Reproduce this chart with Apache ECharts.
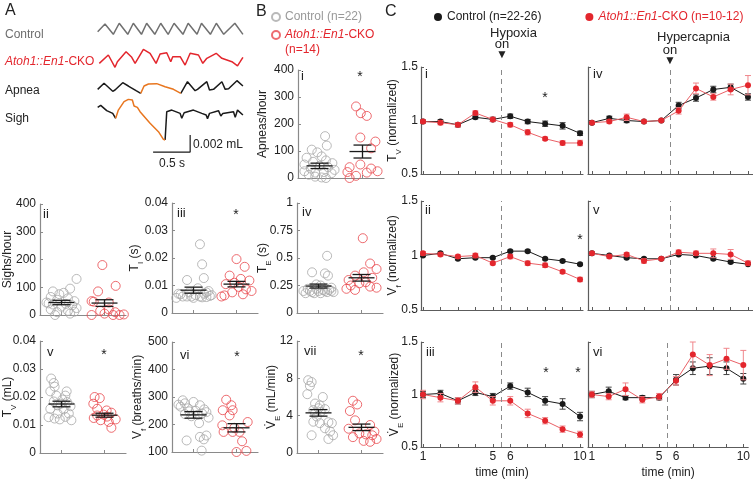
<!DOCTYPE html>
<html><head><meta charset="utf-8">
<script src="https://cdn.jsdelivr.net/npm/echarts@6/dist/echarts.min.js"></script>
<style>html,body{margin:0;padding:0;background:#fff}#c{width:753px;height:482px}</style>
</head><body><div id="c"></div>
<script>
// ================= DATA =================
// Panel A traces: [time (s), volume (µL = 0.001 mL)]
const traceControl = [[0.009,0.39],[0.108,1.29],[0.22,0.08],[0.30,1.38],[0.415,0.08],[0.49,1.38],[0.60,0.08],[0.67,1.38],[0.78,0.08],[0.86,1.38],[0.96,0.08],[1.04,1.38],[1.16,0.08],[1.23,1.38],[1.35,0.08],[1.41,1.38],[1.53,0.08],[1.61,1.38],[1.71,0.08],[1.86,1.38],[1.969,0.08]];
const traceCKO = [[0.031,0.49],[0.153,1.47],[0.243,0.02],[0.275,0.68],[0.392,1.86],[0.469,1.20],[0.514,0.49],[0.626,2.14],[0.716,1.67],[0.797,0.49],[0.851,1.59],[0.941,1.74],[0.995,0.68],[1.022,1.27],[1.122,1.27],[1.189,0.29],[1.257,1.67],[1.369,1.47],[1.428,0.49],[1.482,1.08],[1.608,1.67],[1.685,1.08],[1.820,0.68],[1.896,0.18],[1.932,0.68],[1.969,1.20]];
const traceApneaPre = [[0.009,0.49],[0.095,1.20],[0.212,0.26],[0.243,0.41],[0.347,1.27],[0.423,0.88],[0.527,0.33],[0.590,0.02]];
const traceApneaEvent = [[0.590,0.02],[0.635,0.88],[0.694,1.12],[0.806,1.16],[0.919,0.80],[1.032,0.49],[1.131,0.02]];
const traceApneaPost = [[1.131,0.02],[1.221,1.39],[1.324,0.33],[1.356,0.49],[1.482,1.39],[1.518,0.41],[1.572,0.49],[1.685,1.39],[1.730,0.49],[1.775,0.56],[1.888,1.51],[1.969,0.88]];
const traceSighPre = [[0.009,4.08],[0.050,4.31],[0.131,3.69],[0.212,3.37],[0.252,2.79]];
const traceSighEvent = [[0.252,2.79],[0.288,3.76],[0.365,4.75],[0.423,5.02],[0.477,4.94],[0.500,4.24],[0.545,4.08],[0.581,3.57],[0.716,2.20],[0.829,1.22],[0.896,0.31],[0.919,0.24]];
const traceSighPost = [[0.919,0.24],[0.941,3.57],[1.009,3.76],[1.122,3.37],[1.144,2.79],[1.176,3.45],[1.301,3.76],[1.414,3.37],[1.473,3.18],[1.491,2.75],[1.518,3.37],[1.639,3.69],[1.671,3.06],[1.698,3.37],[1.842,3.57],[1.865,2.90],[1.896,3.76],[1.969,3.18]];
const scaleBarTime = 0.5;   // s
const scaleBarVolume = 2;   // µL (0.002 mL)

// Panel B dot plots: values, horizontal jitter (category units), [mean, SEM]
const apneaCtrl = [155,120,105,95,80,75,65,60,55,50,45,40,35,30,25,22,20,18,12,5,2,0];
const apneaCtrlJit = [0.13,0.17,-0.18,-0.05,0.05,-0.3,0.15,-0.15,0.3,-0.35,0.0,0.2,-0.2,0.35,-0.35,0.1,-0.1,0.28,-0.25,-0.1,0.05,0.15];
const apneaCko = [265,240,230,150,135,110,50,40,35,25,22,20,8,0];
const apneaCkoJit = [-0.15,-0.04,0.1,-0.05,0.3,0.2,-0.05,-0.3,0.2,0.35,-0.35,0.1,-0.15,-0.3];
const apneaStats = [[45,10],[98,24]];

const sighCtrl = [130,95,85,80,75,65,60,55,50,45,42,40,38,35,30,25,20,15,12,10,5,0];
const sighCtrlJit = [0.35,0.2,-0.2,0.05,-0.05,-0.25,0.15,-0.1,0.3,-0.35,-0.3,0.1,-0.2,0.25,0.0,0.35,-0.25,0.15,0.3,-0.1,0.2,-0.15];
const sighCko = [180,105,85,50,48,45,20,15,10,5,0,0,0,2];
const sighCkoJit = [-0.05,0.26,-0.15,-0.3,-0.25,0.1,0.1,-0.1,0.25,0.0,-0.3,0.2,0.35,0.45];
const sighStats = [[45,8],[43,12]];

const tiCtrl = [0.025,0.0177,0.0127,0.012,0.009,0.008,0.0075,0.007,0.007,0.0065,0.0065,0.006,0.006,0.006,0.0058,0.0055,0.0055,0.0057,0.006,0.0075,0.0062,0.0068];
const tiCtrlJit = [0.15,0.2,0.24,-0.15,0.1,0.35,-0.1,0.25,-0.35,0.42,0.05,-0.25,0.15,-0.05,0.3,-0.4,0.0,0.2,-0.15,0.3,0.38,-0.3];
const tiCko = [0.0196,0.0168,0.0136,0.0124,0.0118,0.011,0.0105,0.0095,0.0086,0.008,0.0075,0.0068,0.0064,0.006];
const tiCkoJit = [0.0,0.19,-0.16,0.1,0.3,-0.05,-0.25,0.05,0.22,0.35,-0.1,0.15,-0.28,-0.35];
const tiStats = [[0.0083,0.0011],[0.0105,0.001]];

const teCtrl = [0.52,0.37,0.36,0.34,0.26,0.25,0.23,0.22,0.21,0.2,0.2,0.19,0.19,0.18,0.18,0.18,0.19,0.2,0.21,0.2,0.22,0.2];
const teCtrlJit = [0.2,-0.15,0.15,0.22,-0.05,0.05,0.3,-0.25,0.1,-0.35,0.0,-0.15,0.2,-0.3,0.05,-0.1,0.35,-0.2,0.25,0.15,-0.05,0.3];
const teCko = [0.68,0.45,0.40,0.37,0.34,0.32,0.30,0.28,0.27,0.25,0.24,0.22,0.21,0.23];
const teCkoJit = [0.03,0.2,0.35,0.05,-0.15,0.25,-0.3,0.1,-0.05,-0.25,0.2,-0.35,-0.15,0.35];
const teStats = [[0.245,0.018],[0.32,0.03]];

const tvCtrl = [0.0266,0.025,0.022,0.0237,0.022,0.0205,0.0184,0.0191,0.0182,0.017,0.0167,0.0158,0.0156,0.0141,0.0141,0.0123,0.012,0.0117,0.0129,0.0176,0.0205,0.0128];
const tvCtrlJit = [-0.24,-0.18,-0.26,-0.16,0.12,0.09,-0.18,0.02,0.13,-0.09,0.21,-0.26,0.05,0.17,-0.09,-0.16,-0.04,0.23,0.09,-0.02,-0.12,-0.3];
const tvCko = [0.020,0.0196,0.0176,0.0158,0.0152,0.0144,0.0137,0.0134,0.012,0.0117,0.0111,0.009,0.0125,0.013];
const tvCkoJit = [-0.23,-0.11,-0.26,-0.17,0.05,0.16,-0.02,-0.17,0.26,-0.09,0.1,0.16,-0.25,0.06];
const tvStats = [[0.0175,0.001],[0.0135,0.0007]];

const vfCtrl = [288,277,282,259,270,265,255,250,248,245,240,238,235,230,225,205,160,155,146,142,105,272];
const vfCtrlJit = [-0.25,-0.2,0.0,-0.13,0.15,-0.3,0.25,0.05,-0.1,0.3,0.2,-0.2,0.1,-0.05,0.35,0.13,0.3,0.15,0.24,-0.16,0.19,-0.35];
const vfCko = [290,252,270,252,233,209,197,173,173,139,100,104,173,188];
const vfCkoJit = [-0.24,-0.32,-0.12,-0.09,-0.16,0.26,-0.33,-0.09,0.07,0.13,0.0,0.23,-0.3,-0.05];
const vfStats = [[235,12],[188,15]];

const veCtrl = [7.8,7.6,7.2,6.3,6.0,5.3,5.1,4.7,4.6,4.4,3.9,3.35,3.3,3.2,3.2,2.65,2.3,1.9,1.9,1.5,4.25,4.8];
const veCtrlJit = [-0.24,-0.16,-0.2,-0.26,0.1,-0.08,0.03,0.15,-0.12,0.05,-0.04,-0.12,0.23,0.31,0.03,0.15,0.27,-0.16,0.34,0.23,-0.08,0.0];
const veCko = [5.6,5.2,4.5,3.5,3.0,2.6,2.3,2.1,2.0,1.9,1.7,1.5,1.3,1.2];
const veCkoJit = [-0.2,-0.1,-0.27,-0.15,0.2,-0.3,0.3,-0.05,0.1,0.25,-0.2,0.35,0.05,0.2];
const veStats = [[4.3,0.35],[2.75,0.35]];

// Panel C time courses (normalized), minutes 1..10
const timeMin = [1,2,3,4,5,6,7,8,9,10];
const stimOnset = 5.5;
const tvHypoxCtrl = [0.99,0.99,0.96,1.03,1.01,1.04,0.99,0.97,0.95,0.88];
const tvHypoxCtrlErr = [0.015,0.015,0.02,0.015,0.02,0.02,0.02,0.025,0.03,0.02];
const tvHypoxCko = [0.99,0.98,0.96,1.07,1.01,0.96,0.89,0.83,0.79,0.79];
const tvHypoxCkoErr = [0.015,0.02,0.02,0.02,0.02,0.02,0.025,0.015,0.02,0.025];
const tvHyperCtrl = [0.98,1.02,1.0,0.99,1.0,1.14,1.21,1.29,1.31,1.22];
const tvHyperCtrlErr = [0.01,0.02,0.02,0.01,0.01,0.03,0.03,0.03,0.03,0.03];
const tvHyperCko = [0.98,0.99,1.03,0.99,1.0,1.09,1.30,1.22,1.29,1.33];
const tvHyperCkoErr = [0.01,0.015,0.03,0.01,0.01,0.03,0.05,0.03,0.05,0.09];
const vfHypoxCtrl = [1.0,1.02,0.97,0.98,0.98,1.04,1.04,0.97,0.95,0.92];
const vfHypoxCtrlErr = [0.01,0.01,0.01,0.01,0.01,0.01,0.01,0.01,0.01,0.01];
const vfHypoxCko = [1.02,1.01,0.99,1.0,0.93,0.99,0.93,0.91,0.85,0.78];
const vfHypoxCkoErr = [0.015,0.015,0.015,0.02,0.015,0.02,0.02,0.02,0.015,0.02];
const vfHyperCtrl = [1.02,1.0,0.98,0.97,0.97,1.01,1.0,0.97,0.94,0.92];
const vfHyperCtrlErr = [0.01,0.01,0.01,0.01,0.01,0.01,0.01,0.01,0.01,0.01];
const vfHyperCko = [1.02,0.99,1.01,0.95,0.97,1.03,1.02,1.02,1.01,0.93];
const vfHyperCkoErr = [0.01,0.015,0.015,0.02,0.01,0.02,0.02,0.04,0.045,0.02];
const veHypoxCtrl = [1.0,1.01,0.94,1.02,0.98,1.08,1.02,0.94,0.91,0.79];
const veHypoxCtrlErr = [0.03,0.03,0.03,0.03,0.03,0.03,0.04,0.04,0.05,0.04];
const veHypoxCko = [1.0,0.97,0.94,1.07,0.94,0.94,0.82,0.75,0.67,0.62];
const veHypoxCkoErr = [0.04,0.04,0.03,0.05,0.04,0.04,0.04,0.03,0.03,0.03];
const veHyperCtrl = [1.0,1.03,0.97,0.97,0.97,1.14,1.25,1.27,1.25,1.15];
const veHyperCtrlErr = [0.03,0.04,0.02,0.02,0.02,0.05,0.06,0.08,0.06,0.05];
const veHyperCko = [1.0,0.98,1.05,0.95,0.98,1.13,1.38,1.28,1.34,1.28];
const veHyperCkoErr = [0.03,0.03,0.06,0.03,0.03,0.04,0.12,0.1,0.1,0.14];

// ================= STYLE / BUILD =================
const FONT = '"Liberation Sans", Arial, sans-serif';
const TXT = '#222';
const BLACK = '#1a1a1a', RED = '#e3262d', GRAY_TRACE = '#707070', ORANGE = '#e8761f';
const CIRC_GRAY = '#a8a8a8', CIRC_RED = '#e8474c';
const AX_B = '#8a8a8a', AX_C = '#5c5c5c';
const NAME_CTRL_C = 'Control (n=22-26)', NAME_CKO_C = 'Atoh1::En1-CKO (n=10-12)';
const NAME_CTRL_B = 'Control (n=22)', NAME_CKO_B = 'Atoh1::En1-CKO (n=14)';

const grids = [], xAxes = [], yAxes = [], series = [];
function addGrid(g){ grids.push(g); return grids.length - 1; }

// subscript rich styles: main text pinned to top of line, subscript pinned to bottom
const nameRich = {
  n: {fontSize: 12, fontFamily: FONT, color: TXT, lineHeight: 14, verticalAlign: 'top'},
  d: {fontSize: 12, fontFamily: '"DejaVu Sans", sans-serif', color: TXT, lineHeight: 14, verticalAlign: 'top'},
  s: {fontSize: 8, fontFamily: FONT, color: TXT, lineHeight: 16, verticalAlign: 'bottom'}
};

// ---- Panel A traces ----
const traceGrids = [
  {top: 20, height: 15, ymin: 0, data: [[traceControl, GRAY_TRACE]]},
  {top: 45, height: 22.5, ymin: 0, data: [[traceCKO, RED]]},
  {top: 78, height: 15.5, ymin: 0, data: [[traceApneaPre, BLACK], [traceApneaEvent, ORANGE], [traceApneaPost, BLACK]]},
  {top: 95, height: 58, ymin: -1.29, data: [[traceSighPre, BLACK], [traceSighEvent, ORANGE], [traceSighPost, BLACK]]}
];
const PXV = 8.5; // px per µL
traceGrids.forEach((tg, k) => {
  const gi = addGrid({left: 97, top: tg.top, width: 146, height: tg.height});
  xAxes.push({gridIndex: gi, type: 'value', min: 0, max: 1.97, show: false});
  yAxes.push({gridIndex: gi, type: 'value', min: tg.ymin, max: tg.ymin + tg.height / PXV, show: false});
  tg.data.forEach(([d, col]) => series.push({type: 'line', xAxisIndex: gi, yAxisIndex: gi, data: d, showSymbol: false, clip: false, silent: true,
    lineStyle: {color: col, width: 1.5}, z: col === BLACK ? 2 : 3}));
  if (k === 3) {
    const t0 = 0.757, v0 = -1.18;
    series.push({type: 'line', xAxisIndex: gi, yAxisIndex: gi, showSymbol: false, clip: false, silent: true,
      data: [[t0, v0], [t0 + scaleBarTime, v0], [t0 + scaleBarTime, v0 + scaleBarVolume]],
      lineStyle: {color: BLACK, width: 1.2}});
  }
});

// ---- Panel B dot plots ----
function meanSemRender(params, api) {
  const x = api.value(0), m = api.value(1), s = api.value(2);
  const c = api.coord([x, m]), t = api.coord([x, m + s]), b = api.coord([x, m - s]);
  const st = {stroke: BLACK, lineWidth: 1.3};
  return {type: 'group', children: [
    {type: 'line', shape: {x1: c[0] - 13, y1: c[1], x2: c[0] + 13, y2: c[1]}, style: st},
    {type: 'line', shape: {x1: c[0] - 9, y1: t[1], x2: c[0] + 9, y2: t[1]}, style: st},
    {type: 'line', shape: {x1: c[0] - 9, y1: b[1], x2: c[0] + 9, y2: b[1]}, style: st},
    {type: 'line', shape: {x1: c[0], y1: t[1], x2: c[0], y2: b[1]}, style: st}
  ]};
}
const bPanels = [
  {g: {left: 298, top: 70, width: 86, height: 108}, y: [0, 400, 100], name: 'Apneas/hour', gap: 29, ctrl: apneaCtrl, cj: apneaCtrlJit, cko: apneaCko, kj: apneaCkoJit, st: apneaStats},
  {g: {left: 40, top: 204, width: 86, height: 111}, y: [0, 400, 100], name: 'Sighs/hour', gap: 26, ctrl: sighCtrl, cj: sighCtrlJit, cko: sighCko, kj: sighCkoJit, st: sighStats},
  {g: {left: 172, top: 203, width: 86, height: 110}, y: [0, 0.04, 0.01], name: '{n|T}{s|I}{n| (s)}', gap: 27, ctrl: tiCtrl, cj: tiCtrlJit, cko: tiCko, kj: tiCkoJit, st: tiStats},
  {g: {left: 297, top: 203, width: 86, height: 110}, y: [0, 1, 0.25], name: '{n|T}{s|E}{n| (s)}', gap: 24, ctrl: teCtrl, cj: teCtrlJit, cko: teCko, kj: teCkoJit, st: teStats},
  {g: {left: 40, top: 341, width: 86, height: 112}, y: [0, 0.04, 0.01], name: '{n|T}{s|V}{n| (mL)}', gap: 22, ctrl: tvCtrl, cj: tvCtrlJit, cko: tvCko, kj: tvCkoJit, st: tvStats},
  {g: {left: 172, top: 342, width: 86, height: 110}, y: [100, 500, 100], name: '{n|V}{s|f}{n| (breaths/min)}', gap: 24, ctrl: vfCtrl, cj: vfCtrlJit, cko: vfCko, kj: vfCkoJit, st: vfStats},
  {g: {left: 297, top: 341, width: 86, height: 112}, y: [0, 12, 4], name: '{d|V\u0307}{s|E}{n| (mL/min)}', gap: 15, ctrl: veCtrl, cj: veCtrlJit, cko: veCko, kj: veCkoJit, st: veStats}
];
bPanels.forEach(p => {
  const gi = addGrid(p.g);
  xAxes.push({gridIndex: gi, type: 'value', min: 0.5, max: 2.5,
    axisLine: {show: true, lineStyle: {color: AX_B, width: 1.2}},
    axisTick: {show: true, inside: true, length: 3, customValues: [1, 2], lineStyle: {color: AX_B}},
    axisLabel: {show: false}, splitLine: {show: false}});
  yAxes.push({gridIndex: gi, type: 'value', min: p.y[0], max: p.y[1], interval: p.y[2],
    axisLine: {show: true, lineStyle: {color: AX_B, width: 1.2}},
    axisTick: {show: true, inside: true, length: 3, lineStyle: {color: AX_B}},
    axisLabel: {color: TXT, fontSize: 12, fontFamily: FONT, margin: 4},
    splitLine: {show: false},
    name: p.name, nameLocation: 'middle', nameGap: p.gap, nameRotate: 90, nameMoveOverlap: false,
    nameTextStyle: {color: TXT, fontSize: 12, fontFamily: FONT, rich: nameRich}});
  const circ = (col) => ({type: 'scatter', xAxisIndex: gi, yAxisIndex: gi, symbol: 'circle', symbolSize: 9, silent: true,
    itemStyle: {color: 'rgba(255,255,255,0)', borderColor: col, borderWidth: 1}});
  series.push(Object.assign(circ(CIRC_GRAY), {name: NAME_CTRL_B, data: p.ctrl.map((v, i) => [1 + p.cj[i], v])}));
  series.push(Object.assign(circ(CIRC_RED), {name: NAME_CKO_B, data: p.cko.map((v, i) => [2 + p.kj[i], v])}));
  series.push({type: 'custom', xAxisIndex: gi, yAxisIndex: gi, renderItem: meanSemRender, silent: true, z: 5,
    data: [[1, p.st[0][0], p.st[0][1]], [2, p.st[1][0], p.st[1][1]]]});
});

// ---- Panel C time courses ----
function errRender(color) {
  return function (params, api) {
    const x = api.value(0), m = api.value(1), e = api.value(2);
    const t = api.coord([x, m + e]), b = api.coord([x, m - e]);
    const st = {stroke: color, lineWidth: 1};
    return {type: 'group', children: [
      {type: 'line', shape: {x1: t[0], y1: t[1], x2: b[0], y2: b[1]}, style: st},
      {type: 'line', shape: {x1: t[0] - 3, y1: t[1], x2: t[0] + 3, y2: t[1]}, style: st},
      {type: 'line', shape: {x1: b[0] - 3, y1: b[1], x2: b[0] + 3, y2: b[1]}, style: st}
    ]};
  };
}
const LX = {left: 421, width: 162, min: 0.885, max: 10.17};
const RX = {left: 588, width: 165, min: 0.77, max: 10.29};
const ROWS = [{top: 67, height: 107}, {top: 201, height: 109}, {top: 342, height: 105}];
const cPanels = [
  {x: LX, r: 0, ctrl: tvHypoxCtrl, ce: tvHypoxCtrlErr, cko: tvHypoxCko, ke: tvHypoxCkoErr, name: '{n|T}{s|V}{n| (normalized)}', gap: 18},
  {x: RX, r: 0, ctrl: tvHyperCtrl, ce: tvHyperCtrlErr, cko: tvHyperCko, ke: tvHyperCkoErr},
  {x: LX, r: 1, ctrl: vfHypoxCtrl, ce: vfHypoxCtrlErr, cko: vfHypoxCko, ke: vfHypoxCkoErr, name: '{n|V}{s|f}{n| (normalized)}', gap: 18},
  {x: RX, r: 1, ctrl: vfHyperCtrl, ce: vfHyperCtrlErr, cko: vfHyperCko, ke: vfHyperCkoErr},
  {x: LX, r: 2, ctrl: veHypoxCtrl, ce: veHypoxCtrlErr, cko: veHypoxCko, ke: veHypoxCkoErr, name: '{d|V\u0307}{s|E}{n| (normalized)}', gap: 16},
  {x: RX, r: 2, ctrl: veHyperCtrl, ce: veHyperCtrlErr, cko: veHyperCko, ke: veHyperCkoErr}
];
cPanels.forEach(p => {
  const gi = addGrid({left: p.x.left, width: p.x.width, top: ROWS[p.r].top, height: ROWS[p.r].height});
  const bottom = p.r === 2;
  xAxes.push({gridIndex: gi, type: 'value', min: p.x.min, max: p.x.max,
    axisLine: {show: true, lineStyle: {color: AX_C, width: 1.2}},
    axisTick: {show: true, inside: true, length: 3, customValues: timeMin, lineStyle: {color: AX_C}},
    axisLabel: {show: bottom, customValues: [1, 5, 6, 10], color: TXT, fontSize: 12, fontFamily: FONT, margin: 4},
    splitLine: {show: false},
    name: bottom ? 'time (min)' : '', nameLocation: 'middle', nameGap: 20, nameMoveOverlap: false,
    nameTextStyle: {color: TXT, fontSize: 12, fontFamily: FONT}});
  yAxes.push({gridIndex: gi, type: 'value', min: 0.5, max: 1.5, interval: 0.5,
    axisLine: {show: true, lineStyle: {color: AX_C, width: 1.2}},
    axisTick: {show: true, inside: true, length: 3, lineStyle: {color: AX_C}},
    axisLabel: {show: !!p.name, color: TXT, fontSize: 12, fontFamily: FONT, margin: 3},
    splitLine: {show: false},
    name: p.name || '', nameLocation: 'middle', nameGap: p.gap || 16, nameRotate: 90, nameMoveOverlap: false,
    nameTextStyle: {color: TXT, fontSize: 12, fontFamily: FONT, rich: nameRich}});
  series.push({type: 'line', name: NAME_CTRL_C, xAxisIndex: gi, yAxisIndex: gi, silent: true,
    data: timeMin.map((t, i) => [t, p.ctrl[i]]), symbol: 'circle', symbolSize: 6,
    itemStyle: {color: BLACK}, lineStyle: {color: BLACK, width: 1}, z: 3,
    markLine: {silent: true, symbol: 'none', label: {show: false}, animation: false,
      lineStyle: {type: [5, 4], color: '#8a8a8a', width: 1}, data: [{xAxis: stimOnset}]}});
  series.push({type: 'custom', xAxisIndex: gi, yAxisIndex: gi, silent: true, z: 3, renderItem: errRender('#444'),
    data: timeMin.map((t, i) => [t, p.ctrl[i], p.ce[i]])});
  series.push({type: 'line', name: NAME_CKO_C, xAxisIndex: gi, yAxisIndex: gi, silent: true,
    data: timeMin.map((t, i) => [t, p.cko[i]]), symbol: 'circle', symbolSize: 6,
    itemStyle: {color: RED}, lineStyle: {color: '#ea6066', width: 1}, z: 4});
  series.push({type: 'custom', xAxisIndex: gi, yAxisIndex: gi, silent: true, z: 4, renderItem: errRender('#f0868b'),
    data: timeMin.map((t, i) => [t, p.cko[i], p.ke[i]])});
});

// ---- Annotation texts ----
function txt(text, x, y, o) {
  o = o || {};
  return {type: 'text', x: x, y: y, silent: true, z: 10, style: {text: text, fontSize: o.size || 12, fontFamily: FONT,
    fill: o.color || TXT, align: o.align || 'left', verticalAlign: o.va || 'middle', rich: o.rich}};
}
const itRich = {it: {fontStyle: 'italic', fill: RED, color: RED, fontSize: 12, fontFamily: FONT}, r: {fill: RED, color: RED, fontSize: 12, fontFamily: FONT}};
const graphic = [
  txt('A', 5, 11, {size: 16}),
  txt('Control', 5, 35, {color: '#6d6d6d'}),
  txt('{it|Atoh1::En1}{r|-CKO}', 5, 62, {rich: itRich}),
  txt('Apnea', 5, 91),
  txt('Sigh', 5, 119),
  txt('0.002 mL', 193, 145),
  txt('0.5 s', 172, 164, {align: 'center'}),
  txt('B', 256, 12, {size: 16}),
  txt('C', 385, 12, {size: 16}),
  // panel numerals
  txt('i', 301, 76, {size: 13}), txt('ii', 43, 214, {size: 13}), txt('iii', 177, 213, {size: 13}),
  txt('iv', 302, 212, {size: 13}), txt('v', 47, 352, {size: 13}), txt('vi', 180, 355, {size: 13}), txt('vii', 304, 351, {size: 13}),
  txt('i', 425, 74, {size: 13}), txt('iv', 593, 74, {size: 13}),
  txt('ii', 425, 210, {size: 13}), txt('v', 593, 210, {size: 13}),
  txt('iii', 426, 352, {size: 13}), txt('vi', 593, 352, {size: 13}),
  // significance stars
  txt('*', 360, 77, {size: 14, align: 'center'}), txt('*', 236, 215, {size: 14, align: 'center'}),
  txt('*', 104, 355, {size: 14, align: 'center'}), txt('*', 237, 357, {size: 14, align: 'center'}),
  txt('*', 361, 356, {size: 14, align: 'center'}),
  txt('*', 545, 98, {size: 14, align: 'center'}), txt('*', 580, 240, {size: 14, align: 'center'}),
  txt('*', 546, 373, {size: 14, align: 'center'}), txt('*', 578, 373, {size: 14, align: 'center'}),
  // stimulus annotations
  txt('Hypoxia', 490, 33, {size: 13}), txt('on', 502, 44, {size: 13, align: 'center'}),
  txt('\u25BC', 502, 55, {size: 12, align: 'center'}),
  txt('Hypercapnia', 657, 37, {size: 13}), txt('on', 670, 50, {size: 13, align: 'center'}),
  txt('\u25BC', 670, 61, {size: 12, align: 'center'})
];

const legendRich = {
  it: {fontStyle: 'italic', color: RED, fontSize: 12, fontFamily: FONT, lineHeight: 15},
  r: {color: RED, fontSize: 12, fontFamily: FONT, lineHeight: 15},
  k: {color: TXT, fontSize: 12, fontFamily: FONT, lineHeight: 15},
  g: {color: '#999', fontSize: 12, fontFamily: FONT, lineHeight: 15}
};

const option = {
  animation: false,
  backgroundColor: '#fff',
  grid: grids, xAxis: xAxes, yAxis: yAxes, series: series,
  legend: [
    {orient: 'horizontal', left: 429, top: 6, icon: 'circle', itemWidth: 8, itemHeight: 8, itemGap: 44, selectedMode: false,
      data: [NAME_CTRL_C, NAME_CKO_C],
      formatter: n => n === NAME_CTRL_C ? '{k|Control (n=22-26)}' : '{it|Atoh1::En1}{r|-CKO (n=10-12)}',
      textStyle: {fontFamily: FONT, fontSize: 12, rich: legendRich}},
    {orient: 'vertical', left: 266, top: 6, icon: 'circle', itemWidth: 8, itemHeight: 8, itemGap: 6, selectedMode: false,
      data: [{name: NAME_CTRL_B}, {name: NAME_CKO_B, textStyle: {padding: [15, 0, 0, 0]}}],
      formatter: n => n === NAME_CTRL_B ? '{g|Control (n=22)}' : '{it|Atoh1::En1}{r|-CKO}\n{r|(n=14)}',
      textStyle: {fontFamily: FONT, fontSize: 12, rich: legendRich}}
  ],
  graphic: graphic
};
const chart = echarts.init(document.getElementById('c'), null, {renderer: 'canvas'});
chart.setOption(option);
</script>
</body></html>
